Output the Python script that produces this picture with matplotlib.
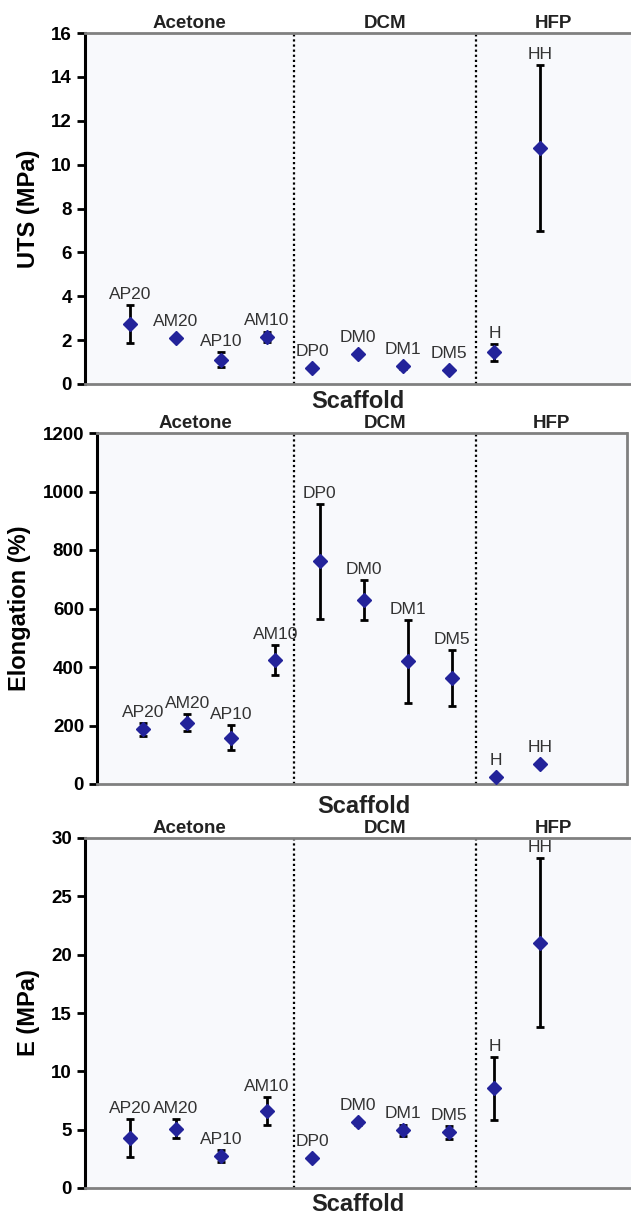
import matplotlib
matplotlib.use("Agg")
import matplotlib.pyplot as plt
import numpy as np

plt.rcParams['font.family'] = ['Liberation Sans', 'DejaVu Sans']

# scaffolds, in plotting order
scaffolds = ["AP20", "AM20", "AP10", "AM10", "DP0", "DM0", "DM1", "DM5", "H", "HH"]
solvents = ["Acetone", "DCM", "HFP"]

# ultimate tensile strength (MPa)
uts_mean = [2.75, 2.10, 1.11, 2.13, 0.73, 1.38, 0.80, 0.65, 1.44, 10.76]
uts_err = [0.87, 0.10, 0.33, 0.22, 0.06, 0.10, 0.10, 0.06, 0.40, 3.78]

# elongation at break (%)
elong_mean = [187, 210, 158, 424, 761, 630, 419, 362, 25, 67]
elong_err = [23, 28, 43, 51, 196, 68, 143, 96, 4, 5]

# modulus (MPa)
mod_mean = [4.28, 5.08, 2.77, 6.56, 2.57, 5.62, 4.93, 4.76, 8.55, 21.04]
mod_err = [1.65, 0.83, 0.50, 1.20, 0.15, 0.20, 0.45, 0.58, 2.68, 7.23]

W, H = 631, 1217
fig = plt.figure(figsize=(W / 100, H / 100), dpi=100)

def frac(left, top, right, bottom):
    return [left / W, 1 - bottom / H, (right - left) / W, (bottom - top) / H]

panels = [
    # (mean, err, ylabel, ymax, ystep, rect, xlim, dividers, boxed, xlabel_y)
    (uts_mean, uts_err, "UTS (MPa)", 16, 2, frac(84.5, 33, 631, 384), (0, 12), (4.6, 8.6), False, -0.017),
    (elong_mean, elong_err, "Elongation (%)", 1200, 200, frac(96.6, 433, 626.5, 784), (-0.05, 11.95), (4.43, 8.55), True, -0.03),
    (mod_mean, mod_err, "E (MPa)", 30, 5, frac(84.5, 838, 631, 1188), (0, 12), (4.6, 8.6), False, -0.015),
]

xs = np.arange(1, len(scaffolds) + 1)

for mean, err, ylabel, ymax, ystep, rect, xlim, dividers, boxed, xlab_y in panels:
    ax = fig.add_axes(rect)
    ax.set_facecolor("#f8f9fc")
    ax.set_xlim(*xlim)
    ax.set_ylim(0, ymax)
    ax.set_yticks(np.arange(0, ymax + ystep, ystep))
    ax.set_xticks([])

    ax.spines['left'].set_color('black')
    ax.spines['left'].set_linewidth(2.2)
    for s in ['top', 'bottom']:
        ax.spines[s].set_color('#808080')
        ax.spines[s].set_linewidth(2.0)
    ax.spines['right'].set_color('#808080')
    ax.spines['right'].set_linewidth(2.0)
    ax.spines['right'].set_visible(boxed)

    ax.tick_params(axis='y', direction='out', length=6, width=2, color='black', pad=3)
    for lab in ax.get_yticklabels():
        lab.set_fontweight('bold')
        lab.set_fontsize(13.5)

    for d in dividers:
        ax.axvline(d, color='black', linestyle=(0, (1, 1.3)), linewidth=1.6, zorder=1)

    ax.errorbar(xs, mean, yerr=err, fmt='none', ecolor='black', elinewidth=2,
                capsize=2.7, capthick=2, zorder=2)
    ax.plot(xs, mean, 'D', color='#23239a', markersize=7, zorder=3, linestyle='none')

    # point labels above the error bar tops
    for x, m, e, name in zip(xs, mean, err, scaffolds):
        top_px = ax.transData.transform((x, m + e))[1]
        mid_px = ax.transData.transform((x, m))[1]
        extra = max(0, 6 - (top_px - mid_px))
        ax.annotate(name, (x, m + e), xytext=(0, (3 + extra) * 0.72), textcoords='offset points',
                    ha='center', va='bottom', fontsize=12.5, color='#333333')

    # solvent headers
    bounds = [xlim[0], dividers[0], dividers[1], xlim[1]]
    for i, sol in enumerate(solvents):
        ax.text((bounds[i] + bounds[i + 1]) / 2, 1.004, sol, transform=ax.get_xaxis_transform(),
                ha='center', va='bottom', fontsize=13.5, fontweight='bold', color='#222222')

    ax.set_ylabel(ylabel, fontsize=17, fontweight='bold', labelpad=8)
    ax.text(6.0, xlab_y, "Scaffold", transform=ax.get_xaxis_transform(),
            ha='center', va='top', fontsize=17, fontweight='bold', color='#222222')

fig.savefig("out.png", dpi=100)
